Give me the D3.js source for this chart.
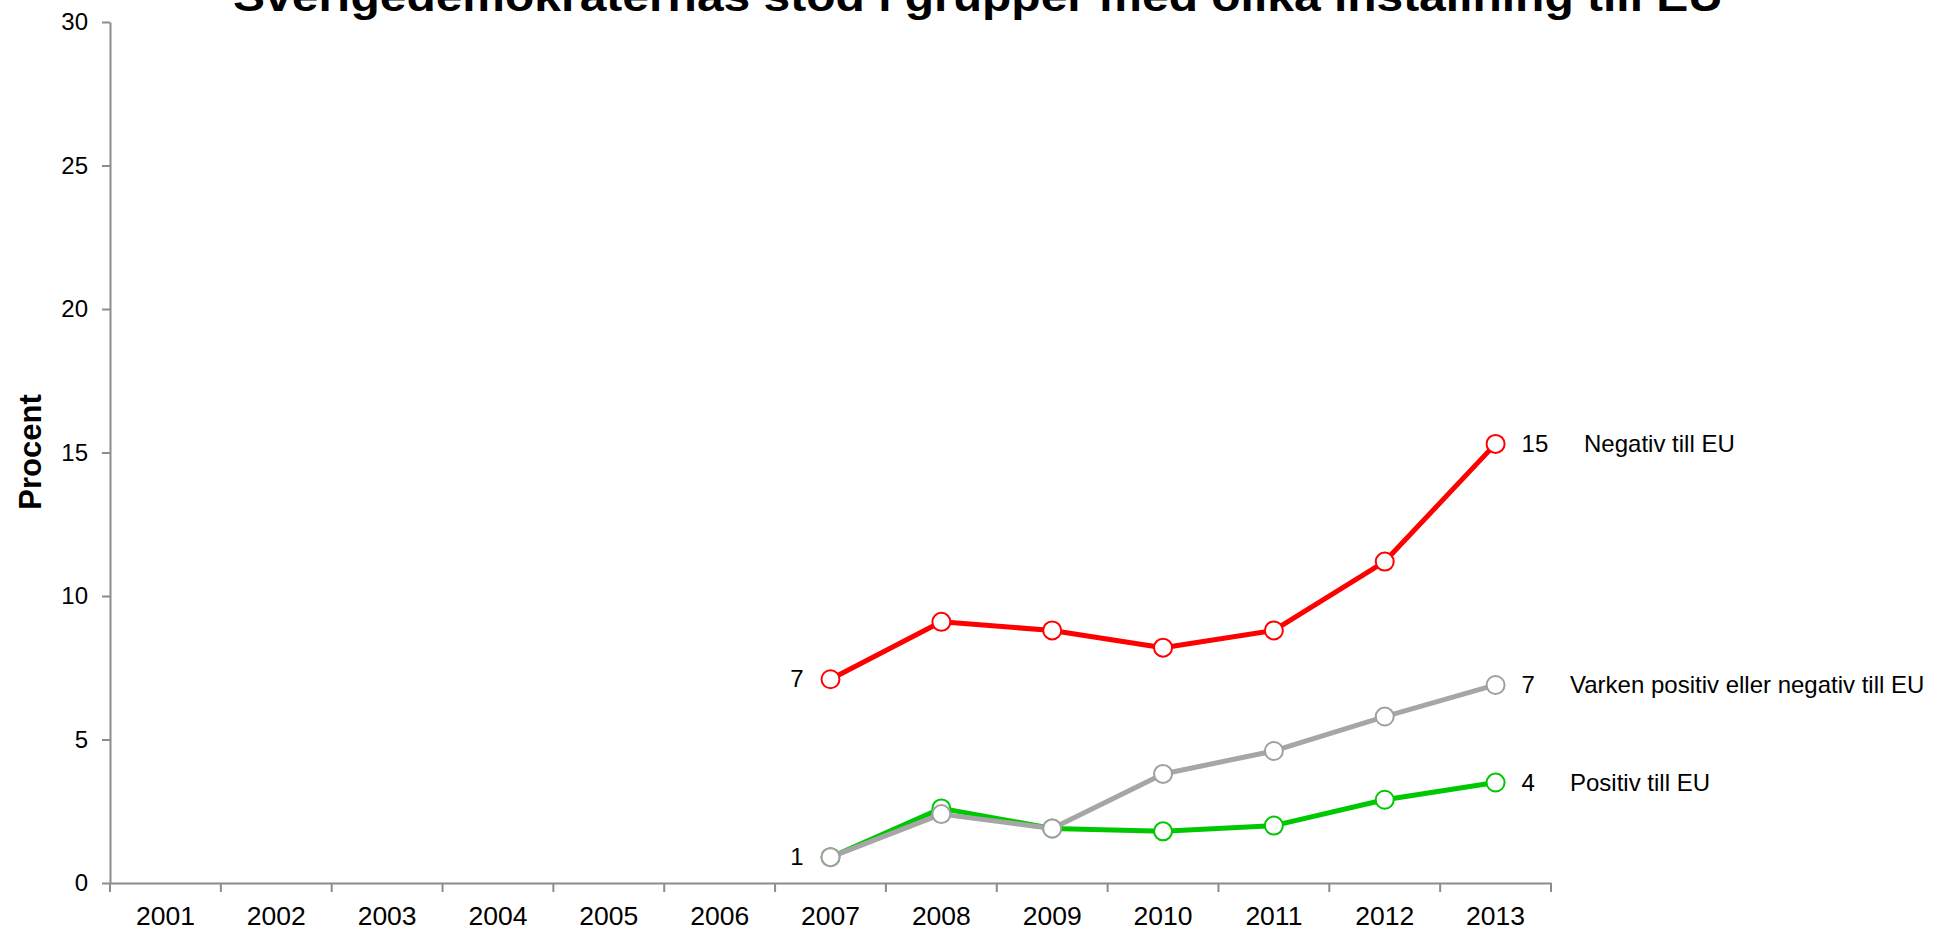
<!DOCTYPE html>
<html>
<head>
<meta charset="utf-8">
<script src="https://cdn.jsdelivr.net/npm/d3@7"></script>
<style>
  html, body { margin: 0; padding: 0; background: #ffffff; }
  svg { display: block; }
  text { font-family: "Liberation Sans", Arial, sans-serif; }
</style>
</head>
<body>
<svg id="chart" width="1946" height="930"></svg>
<script>
// ---- data ----
const years = ["2001","2002","2003","2004","2005","2006","2007","2008","2009","2010","2011","2012","2013"];
const negativ = [null,null,null,null,null,null,7.1,9.1,8.8,8.2,8.8,11.2,15.3];
const varken  = [null,null,null,null,null,null,0.9,2.4,1.9,3.8,4.6,5.8,6.9];
const positiv = [null,null,null,null,null,null,0.9,2.6,1.9,1.8,2.0,2.9,3.5];
const seriesNames = ["Negativ till EU","Positiv till EU","Varken positiv eller negativ till EU"];
const yTicks = [0,5,10,15,20,25,30];
const chartTitle = "Sverigedemokraternas stöd i grupper med olika inställning till EU";
const yTitle = "Procent";

// ---- layout ----
const plotLeft = 110, plotRight = 1551, plotTop = 22, plotBottom = 883;
const svg = d3.select("#chart");

const x = d3.scaleBand().domain(years).range([plotLeft, plotRight]).padding(0);
const y = d3.scaleLinear().domain([0, 30]).range([plotBottom, plotTop]);
const axisColor = "#8c8c8c";

// Y axis
const gy = svg.append("g").attr("transform", `translate(${plotLeft},0)`)
  .call(d3.axisLeft(y).tickValues(yTicks).tickSize(8).tickSizeOuter(0).tickPadding(14));
gy.select(".domain").attr("stroke", axisColor).attr("stroke-width", 2);
gy.selectAll(".tick line").attr("stroke", axisColor).attr("stroke-width", 2);
gy.selectAll(".tick text").attr("font-size", 24).attr("fill", "#000")
  .attr("font-family", "Liberation Sans, Arial, sans-serif");

// X axis
const gx = svg.append("g").attr("transform", `translate(0,${plotBottom})`)
  .call(d3.axisBottom(x).tickSize(0).tickSizeOuter(0).tickPadding(23));
gx.select(".domain").attr("stroke", axisColor).attr("stroke-width", 2);
gx.selectAll(".tick text").attr("font-size", 26.5).attr("fill", "#000")
  .attr("font-family", "Liberation Sans, Arial, sans-serif");
// boundary ticks
const bounds = years.map(d => x(d)).concat([x.range()[1]]);
gx.selectAll(".btick").data(bounds).enter().append("line")
  .attr("class", "btick")
  .attr("x1", d => d).attr("x2", d => d).attr("y1", 0).attr("y2", 9)
  .attr("stroke", axisColor).attr("stroke-width", 2);

// Y title
svg.append("text")
  .attr("transform", `translate(41,452) rotate(-90)`)
  .attr("text-anchor", "middle")
  .attr("font-size", 31).attr("font-weight", "bold")
  .text(yTitle);

// Title (partly clipped at top, as in the reference)
const t = svg.append("text")
  .attr("font-size", 42).attr("font-weight", "bold")
  .attr("text-anchor", "middle")
  .text(chartTitle);
const tl = t.node().getComputedTextLength();
const sx = 1490 / tl;
t.attr("transform", `translate(978,11) scale(${sx},1)`);

// ---- series ----
const series = [
  { name: seriesNames[0], values: negativ, color: "#ff0000", mstroke: "#ff0000", width: 5, leftLabel: true, nameX: 1584 },
  { name: seriesNames[1], values: positiv, color: "#00c800", mstroke: "#00c800", width: 5, leftLabel: false, nameX: 1570 },
  { name: seriesNames[2], values: varken,  color: "#a6a6a6", mstroke: "#a0a0a0", width: 5, leftLabel: true, nameX: 1570 }
];
const cx = d => x(d.year) + x.bandwidth() / 2;
const line = d3.line().defined(d => d.v != null).x(cx).y(d => y(d.v));
const fmt = d3.format(".0f");

series.forEach(s => {
  const pts = years.map((yr, i) => ({ year: yr, v: s.values[i] }));
  const valid = pts.filter(d => d.v != null);
  const g = svg.append("g");
  g.append("path").datum(pts)
    .attr("d", line).attr("fill", "none")
    .attr("stroke", s.color).attr("stroke-width", s.width)
    .attr("stroke-linejoin", "round");
  g.selectAll("circle").data(valid).enter().append("circle")
    .attr("cx", cx).attr("cy", d => y(d.v)).attr("r", 9)
    .attr("fill", "#fff").attr("stroke", s.mstroke).attr("stroke-width", 2);
  const first = valid[0], last = valid[valid.length - 1];
  if (s.leftLabel) {
    g.append("text").attr("x", cx(first) - 27).attr("y", y(first.v) + 8)
      .attr("text-anchor", "end").attr("font-size", 24).text(fmt(first.v));
  }
  g.append("text").attr("x", cx(last) + 26).attr("y", y(last.v) + 8)
    .attr("font-size", 24).text(fmt(last.v));
  g.append("text").attr("x", s.nameX).attr("y", y(last.v) + 8)
    .attr("font-size", 24).text(s.name);
});
</script>
</body>
</html>
